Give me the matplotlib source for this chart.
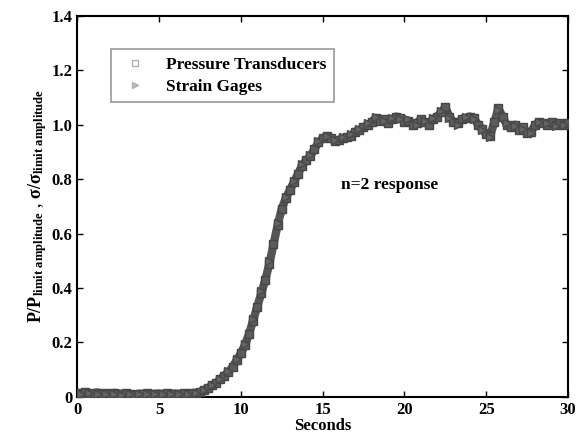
import numpy as np
import matplotlib
matplotlib.use('Agg')
import matplotlib.pyplot as plt

# dados
t_pressao = [0.0, 0.25, 0.5, 0.75, 1.0, 1.25, 1.5, 1.75, 2.0, 2.25, 2.5, 2.75, 3.0, 3.25, 3.5,
             3.75, 4.0, 4.25, 4.5, 4.75, 5.0, 5.25, 5.5, 5.75, 6.0, 6.25, 6.5, 6.75, 7.0,
             7.25, 7.5, 7.75, 8.0, 8.25, 8.5, 8.75, 9.0, 9.25, 9.5, 9.75, 10.0, 10.25, 10.5,
             10.75, 11.0, 11.25, 11.5, 11.75, 12.0, 12.25, 12.5, 12.75, 13.0, 13.25, 13.5,
             13.75, 14.0, 14.25, 14.5, 14.75, 15.0, 15.25, 15.5, 15.75, 16.0, 16.25, 16.5,
             16.75, 17.0, 17.25, 17.5, 17.75, 18.0, 18.25, 18.5, 18.75, 19.0, 19.25, 19.5,
             19.75, 20.0, 20.25, 20.5, 20.75, 21.0, 21.25, 21.5, 21.75, 22.0, 22.25, 22.5,
             22.75, 23.0, 23.25, 23.5, 23.75, 24.0, 24.25, 24.5, 24.75, 25.0, 25.25, 25.5,
             25.75, 26.0, 26.25, 26.5, 26.75, 27.0, 27.25, 27.5, 27.75, 28.0, 28.25, 28.5,
             28.75, 29.0, 29.25, 29.5, 29.75, 30.0]
pressao = [0.015, 0.012, 0.018, 0.010, 0.014, 0.016, 0.011, 0.013, 0.009, 0.015, 0.012, 0.010,
           0.014, 0.011, 0.008, 0.012, 0.010, 0.013, 0.009, 0.011, 0.012, 0.010, 0.013, 0.011,
           0.012, 0.010, 0.013, 0.012, 0.013,
           0.015, 0.018, 0.025, 0.033, 0.042, 0.052, 0.064, 0.078, 0.092, 0.11, 0.135, 0.16,
           0.19, 0.23, 0.28, 0.33, 0.38, 0.43, 0.49, 0.56, 0.63, 0.69, 0.73, 0.76, 0.79, 0.82,
           0.85, 0.87, 0.885, 0.91, 0.935, 0.95, 0.957, 0.95, 0.94, 0.945, 0.95, 0.955, 0.96,
           0.975, 0.98, 0.99, 1.0, 1.01, 1.025, 1.015, 1.02, 1.005, 1.02, 1.03, 1.025, 1.01,
           1.015, 1.0, 1.005, 1.02, 1.01, 1.0, 1.02, 1.03, 1.045, 1.065, 1.03, 1.01, 1.005,
           1.02, 1.025, 1.03, 1.025, 1.0, 0.985, 0.965, 0.96, 1.01, 1.06, 1.03, 1.0, 0.99, 1.0,
           0.98, 0.99, 0.97, 0.975, 1.0, 1.01, 1.005, 1.0, 1.01, 1.0, 1.005, 1.0, 1.005]

t_strain = [0.25, 0.75, 1.25, 1.75, 2.25, 2.75, 3.25, 3.75, 4.25, 4.75, 5.25, 5.75, 6.25, 6.75,
            7.25, 7.75, 8.25, 8.75, 9.25, 9.75, 10.25, 10.75, 11.25, 11.75, 12.25, 12.75,
            13.25, 13.75, 14.25, 14.75, 15.25, 15.75, 16.25, 16.75, 17.25, 17.75, 18.25,
            18.75, 19.25, 19.75, 20.25, 20.75, 21.25, 21.75, 22.25, 22.75, 23.25, 23.75,
            24.25, 24.75, 25.25, 25.75, 26.25, 26.75, 27.25, 27.75, 28.25, 28.75, 29.25, 29.75]
strain = [0.010, 0.013, 0.009, 0.012, 0.011, 0.008, 0.012, 0.010, 0.009, 0.011, 0.010, 0.012,
          0.011, 0.012,
          0.014, 0.024, 0.044, 0.066, 0.095, 0.14, 0.195, 0.285, 0.39, 0.5, 0.64, 0.735, 0.795,
          0.855, 0.89, 0.94, 0.96, 0.945, 0.955, 0.965, 0.985, 1.005, 1.03, 1.015, 1.025, 1.02,
          1.02, 1.0, 1.015, 1.025, 1.05, 1.025, 1.0, 1.03, 1.02, 0.98, 0.955, 1.055, 1.005,
          0.995, 0.985, 0.97, 1.01, 1.005, 0.995, 1.0]

y_ticks = [0, 0.2, 0.4, 0.6, 0.8, 1.0, 1.2, 1.4]
y_labels = ['0', '0.2', '0.4', '0.6', '0.8', '1.0', '1.2', '1.4']
x_ticks = [0, 5, 10, 15, 20, 25, 30]

plt.rcParams['font.family'] = 'Liberation Serif'
plt.rcParams['font.weight'] = 'bold'
plt.rcParams['mathtext.fontset'] = 'custom'
plt.rcParams['mathtext.rm'] = 'Liberation Serif:bold'
plt.rcParams['mathtext.it'] = 'Liberation Serif:bold'
plt.rcParams['mathtext.bf'] = 'Liberation Serif:bold'

fig = plt.figure(figsize=(5.76, 4.41), dpi=100)
ax = fig.add_axes([0.134, 0.100, 0.852, 0.864])

# faixa grossa dos dados
ax.plot(t_pressao, pressao, color='#555555', linewidth=6, solid_capstyle='round',
        solid_joinstyle='round', zorder=2)
ax.plot(t_pressao, pressao, linestyle='', marker='s', markersize=5.5,
        markerfacecolor='#5c5c5c', markeredgecolor='#454545', zorder=3)
ax.plot(t_strain, strain, linestyle='', marker='>', markersize=5.5,
        markerfacecolor='#666666', markeredgecolor='#4a4a4a', zorder=3)

# entradas da legenda
ax.plot([], [], linestyle='', marker='s', markersize=4, markerfacecolor='none',
        markeredgecolor='#b0b0b0', label='Pressure Transducers')
ax.plot([], [], linestyle='', marker='>', markersize=4, markerfacecolor='#c0c0c0',
        markeredgecolor='#b0b0b0', label='Strain Gages')
handles, labels = ax.get_legend_handles_labels()
leg = ax.legend(handles[-2:], labels[-2:], loc='upper left', bbox_to_anchor=(0.052, 0.935),
                fancybox=False, edgecolor='#808080', fontsize=12.5, handletextpad=0.9,
                handlelength=1.8, borderpad=0.45, labelspacing=0.3)
leg.get_frame().set_linewidth(1.2)

ax.text(19.1, 0.78, 'n=2 response', fontsize=12.5, fontweight='bold', ha='center', va='center')

ax.set_xlim(0, 30)
ax.set_ylim(0, 1.4)
ax.set_xticks(x_ticks)
ax.set_yticks(y_ticks)
ax.set_yticklabels(y_labels)
ax.tick_params(direction='in', top=True, right=True, labelsize=12, length=4, width=1)
for s in ax.spines.values():
    s.set_linewidth(1.5)
ax.set_xlabel('Seconds', fontsize=12, fontweight='bold', labelpad=0)
ax.set_ylabel(r'$\mathrm{P/P}_{\mathrm{limit\ amplitude}}$ , $\mathrm{\sigma/\sigma}_{\mathrm{limit\ amplitude}}$',
              fontsize=13, labelpad=2)

fig.savefig('out.png', dpi=100)
